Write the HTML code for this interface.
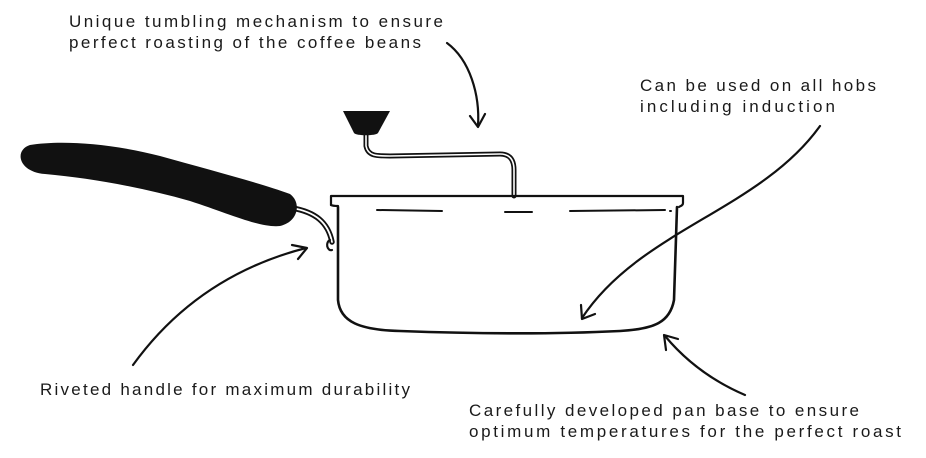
<!DOCTYPE html>
<html><head><meta charset="utf-8"><style>
html,body{margin:0;padding:0;background:#fff;}
svg{display:block;}
text{font-family:"Liberation Sans",sans-serif;font-size:17px;fill:#1a1a1a;}
</style></head><body>
<svg width="926" height="458" viewBox="0 0 926 458" xmlns="http://www.w3.org/2000/svg">
<text x="69" y="27" textLength="374" lengthAdjust="spacing">Unique tumbling mechanism to ensure</text>
<text x="69" y="48" textLength="352" lengthAdjust="spacing">perfect roasting of the coffee beans</text>
<text x="640" y="91" textLength="236" lengthAdjust="spacing">Can be used on all hobs</text>
<text x="640" y="112" textLength="195" lengthAdjust="spacing">including  induction</text>
<text x="40" y="395" textLength="370" lengthAdjust="spacing">Riveted handle for maximum durability</text>
<text x="469" y="416" textLength="390" lengthAdjust="spacing">Carefully developed pan base to ensure</text>
<text x="469" y="437" textLength="432" lengthAdjust="spacing">optimum temperatures for the perfect roast</text>

<g fill="none" stroke="#111" stroke-width="2.2" stroke-linecap="round" stroke-linejoin="round">
<path d="M447,43 C470,60 480,95 478,126"/>
<path d="M470,116 L478,127 L485,114"/>
<path d="M820,126 C760,210 640,230 582,318"/>
<path d="M581,305 L582,319 L595,314"/>
<path d="M133,365 C180,300 240,265 306,248"/>
<path d="M292,245 L307,248 L298,259"/>
<path d="M745,395 C710,380 685,360 665,336"/>
<path d="M666,350 L664,335 L678,339"/>
<path d="M366,134 L366,146 C368,156 376,156 390,156 L500,154 C510,154 514,160 514,170 L514,196" stroke-width="5"/>
<path d="M366,134 L366,146 C368,156 376,156 390,156 L500,154 C510,154 514,160 514,170 L514,196" stroke="#fff" stroke-width="1.6"/>
<path d="M292,208 C315,212 328,222 332,242" stroke-width="5.5"/>
<path d="M292,208 C315,212 328,222 332,242" stroke="#fff" stroke-width="1.8"/>
<path d="M330,240 a3,4 0 1,0 2,10"/>
<path d="M331,205 L331,196 L683,196 L683,203 C683,206 680,206 679,207"/>
<path d="M338,206 C336,206 333,206 331,205"/>
<path d="M338,207 L338,300 C340,322 360,330 400,331 C480,334 560,334 620,331 C655,329 670,322 674,300 L677,207" stroke-width="2.6"/>
<path d="M377,210 L442,211 M505,212 L532,212 M570,211 L665,210 M670,211 L671,211" stroke-width="2"/>
</g>
<path d="M343,111 L390,111 L378,133 C376,136 356,136 354,133 Z" fill="#111"/>
<path d="M30,145 C60,140 110,143 160,156 C210,170 260,183 290,194 C302,203 298,222 280,226 C260,228 230,214 190,201 C140,187 90,178 45,174 C18,172 14,150 30,145 Z" fill="#111"/>
</svg>
</body></html>
